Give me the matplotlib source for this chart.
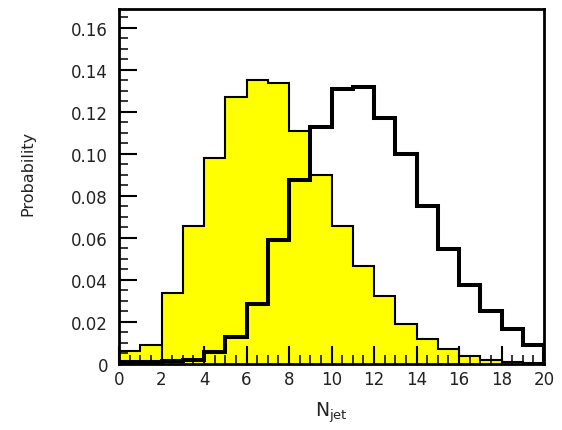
import numpy as np
import matplotlib
matplotlib.use("Agg")
import matplotlib.pyplot as plt
from matplotlib.ticker import MultipleLocator, FixedLocator

plt.rcParams['font.family'] = ['DejaVu Sans']

# Jet multiplicity bins (width 1, 0..20)
bin_edges = np.arange(0, 21, 1)

# Filled (yellow) distribution
prob_low = [0.006, 0.009, 0.034, 0.0656, 0.0983, 0.127, 0.135, 0.134, 0.111, 0.090,
            0.0656, 0.0466, 0.0324, 0.019, 0.0118, 0.0071, 0.004, 0.002, 0.0008, 0.0005]

# Open (thick outline) distribution
prob_high = [0.001, 0.001, 0.0015, 0.002, 0.0055, 0.013, 0.0284, 0.0588, 0.0877, 0.113,
             0.1308, 0.132, 0.117, 0.0999, 0.0754, 0.0548, 0.0376, 0.025, 0.0166, 0.0092]

y_ticks = [0, 0.02, 0.04, 0.06, 0.08, 0.10, 0.12, 0.14, 0.16]
y_tick_labels = ['0', '0.02', '0.04', '0.06', '0.08', '0.10', '0.12', '0.14', '0.16']
x_ticks = list(range(0, 21, 2))

text_color = '#222222'

fig = plt.figure(figsize=(5.62, 4.31), dpi=100)
ax = fig.add_axes([119 / 562, 1 - 365 / 431, 425 / 562, 355 / 431])

ax.stairs(prob_low, bin_edges, fill=True, color='#ffff00', zorder=1)
ax.stairs(prob_low, bin_edges, color='black', lw=1.5, zorder=1.1)
ax.stairs(prob_high, bin_edges, color='black', lw=2.9, zorder=1.2)

ax.set_xlim(0, 20)
ax.set_ylim(0, 0.169)

ax.xaxis.set_major_locator(FixedLocator(x_ticks))
ax.xaxis.set_minor_locator(MultipleLocator(0.5))
ax.yaxis.set_major_locator(FixedLocator(y_ticks))
ax.set_yticklabels(y_tick_labels)
ax.yaxis.set_minor_locator(MultipleLocator(0.005))

ax.tick_params(which='both', direction='in', top=False, right=False, colors='black')
ax.tick_params(which='major', length=13, width=1.5, labelsize=12, labelcolor=text_color)
ax.tick_params(which='minor', length=6.5, width=1.1)
ax.tick_params(axis='x', which='major', pad=4)
ax.tick_params(axis='y', which='major', pad=8)
ax.set_axisbelow(False)

for sp in ax.spines.values():
    sp.set_linewidth(2.0)

ax.set_ylabel('Probability', fontsize=11.5, color=text_color)
ax.yaxis.set_label_coords(-0.197, 0.54)
ax.set_xlabel(r'$\mathregular{N_{jet}}$', fontsize=13.5, color=text_color)
ax.xaxis.set_label_coords(0.5, -0.1)

fig.savefig('out.png', dpi=100)
